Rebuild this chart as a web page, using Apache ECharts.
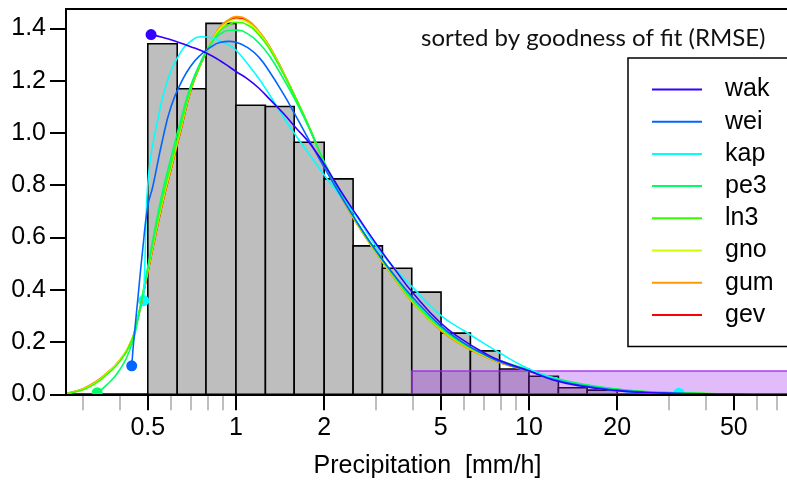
<!DOCTYPE html>
<html>
<head>
<meta charset="utf-8">
<script src="https://cdn.jsdelivr.net/npm/echarts@6.0.0/dist/echarts.min.js"></script>
<style>
  html, body { margin: 0; padding: 0; background: #ffffff; }
  #chart { width: 787px; height: 480px; }
</style>
</head>
<body>
<div id="chart"></div>
<script>
// Histogram of precipitation intensities (density scale, log-spaced bins)
const binEdges = [0.5, 0.63, 0.79, 1.0, 1.26, 1.58, 2.0, 2.51, 3.16, 3.98, 5.01, 6.31, 7.94, 10.0, 12.6, 15.8, 20.0];
const binDensity = [1.341, 1.169, 1.419, 1.106, 1.101, 0.964, 0.824, 0.568, 0.482, 0.391, 0.234, 0.166, 0.097, 0.069, 0.025, 0.016];

// Highlighted upper range of the sample
const tailRange = [3.98, 100];
const tailTop = 0.089;

// Fitted distributions, best fit first
const fitNames = ['wak', 'wei', 'kap', 'pe3', 'ln3', 'gno', 'gum', 'gev'];
const fitColors = ['#3300FF', '#0066FF', '#00FFFF', '#00FF66', '#33FF00', '#CCFF00', '#FF9900', '#FF0000'];

// Density curves (x in mm/h)
const gridX = [0.263, 0.28, 0.30, 0.33, 0.36, 0.40, 0.44, 0.46, 0.48, 0.52, 0.56, 0.60, 0.65, 0.70, 0.76, 0.82, 0.88, 0.95, 1.0, 1.1, 1.2, 1.3, 1.45, 1.6, 1.8, 2.0, 2.3, 2.6, 3.0, 3.5, 4.0, 5.0, 6.0, 7.0, 8.0, 10, 12, 15, 20, 25, 32, 40, 50, 65, 76];
const yGev = [0.003, 0.010, 0.020, 0.045, 0.078, 0.128, 0.205, 0.280, 0.370, 0.557, 0.725, 0.860, 1.015, 1.160, 1.266, 1.342, 1.400, 1.430, 1.440, 1.427, 1.386, 1.331, 1.232, 1.133, 1.006, 0.884, 0.752, 0.649, 0.544, 0.439, 0.354, 0.246, 0.186, 0.148, 0.121, 0.089, 0.061, 0.036, 0.017, 0.009, 0.0045, 0.0022, 0.0011, 0.0005, 0.0002];
const yGum = [0.004, 0.011, 0.021, 0.046, 0.079, 0.129, 0.207, 0.280, 0.372, 0.560, 0.728, 0.862, 1.018, 1.163, 1.270, 1.345, 1.405, 1.435, 1.445, 1.430, 1.388, 1.332, 1.232, 1.132, 1.005, 0.882, 0.750, 0.647, 0.542, 0.437, 0.352, 0.244, 0.184, 0.146, 0.120, 0.088, 0.060, 0.035, 0.016, 0.008, 0.004, 0.002, 0.001, 0.0004, 0.0002];
const yGno = [0.003, 0.009, 0.019, 0.043, 0.077, 0.128, 0.207, 0.283, 0.378, 0.567, 0.735, 0.870, 1.025, 1.165, 1.268, 1.342, 1.398, 1.427, 1.435, 1.422, 1.382, 1.328, 1.230, 1.132, 1.007, 0.885, 0.754, 0.650, 0.545, 0.441, 0.356, 0.249, 0.188, 0.150, 0.123, 0.090, 0.062, 0.037, 0.018, 0.0095, 0.005, 0.0026, 0.0013, 0.0005, 0.0002];
const yLn3 = [0.002, 0.008, 0.017, 0.040, 0.073, 0.124, 0.205, 0.285, 0.382, 0.575, 0.745, 0.880, 1.033, 1.168, 1.268, 1.338, 1.390, 1.415, 1.423, 1.412, 1.374, 1.322, 1.227, 1.132, 1.010, 0.888, 0.757, 0.653, 0.548, 0.444, 0.359, 0.252, 0.190, 0.152, 0.125, 0.092, 0.064, 0.038, 0.019, 0.010, 0.0055, 0.003, 0.0015, 0.0006, 0.0002];

const xPe3 = [0.336, 0.36, 0.40, 0.44, 0.46, 0.48, 0.52, 0.56, 0.60, 0.65, 0.70, 0.76, 0.82, 0.88, 0.95, 1.0, 1.1, 1.2, 1.3, 1.45, 1.6, 1.8, 2.0, 2.3, 2.6, 3.0, 3.5, 4.0, 5.0, 6.0, 7.0, 8.0, 10, 12, 15, 20, 25, 32, 40, 50, 65, 76];
const yPe3 = [0.006, 0.033, 0.092, 0.188, 0.272, 0.380, 0.590, 0.770, 0.905, 1.055, 1.180, 1.275, 1.340, 1.377, 1.392, 1.393, 1.378, 1.342, 1.295, 1.208, 1.122, 1.005, 0.888, 0.760, 0.656, 0.552, 0.448, 0.363, 0.256, 0.194, 0.156, 0.128, 0.094, 0.065, 0.040, 0.020, 0.011, 0.0055, 0.0028, 0.0012, 0.0004, 0.0001];

const xKap = [0.484, 0.489, 0.496, 0.503, 0.516, 0.536, 0.58, 0.644, 0.70, 0.754, 0.82, 0.88, 0.95, 1.0, 1.1, 1.2, 1.3, 1.45, 1.6, 1.8, 2.0, 2.3, 2.6, 3.0, 3.5, 4.0, 5.0, 6.0, 7.0, 8.0, 10, 12, 15, 20, 25, 32.5];
const yKap = [0.358, 0.514, 0.743, 0.839, 0.935, 1.030, 1.190, 1.304, 1.350, 1.368, 1.365, 1.352, 1.335, 1.316, 1.262, 1.206, 1.147, 1.062, 0.990, 0.910, 0.839, 0.751, 0.675, 0.568, 0.478, 0.410, 0.302, 0.243, 0.196, 0.156, 0.097, 0.063, 0.034, 0.014, 0.007, 0.004];

const xWei = [0.4406, 0.445, 0.45, 0.46, 0.48, 0.50, 0.52, 0.56, 0.60, 0.65, 0.70, 0.76, 0.82, 0.88, 0.95, 1.0, 1.1, 1.2, 1.3, 1.45, 1.6, 1.8, 2.0, 2.3, 2.6, 3.0, 3.5, 4.0, 5.0, 6.0, 7.0, 8.0, 10, 12, 15, 20, 25, 32, 40, 50, 65, 76];
const yWei = [0.109, 0.170, 0.230, 0.340, 0.550, 0.720, 0.795, 0.968, 1.100, 1.193, 1.255, 1.300, 1.328, 1.346, 1.350, 1.347, 1.325, 1.288, 1.235, 1.150, 1.065, 0.960, 0.868, 0.752, 0.655, 0.550, 0.450, 0.372, 0.262, 0.196, 0.154, 0.124, 0.089, 0.058, 0.034, 0.016, 0.008, 0.0035, 0.0015, 0.0006, 0.0002, 0.0001];

const xWak = [0.513, 0.56, 0.60, 0.65, 0.70, 0.76, 0.82, 0.88, 0.95, 1.0, 1.1, 1.2, 1.3, 1.45, 1.6, 1.8, 2.0, 2.3, 2.6, 3.0, 3.5, 4.0, 5.0, 6.0, 7.0, 8.0, 10, 12, 15, 20, 25, 32, 40, 50, 65, 76];
const yWak = [1.376, 1.366, 1.356, 1.343, 1.330, 1.315, 1.297, 1.277, 1.252, 1.235, 1.205, 1.170, 1.130, 1.075, 1.020, 0.955, 0.880, 0.770, 0.680, 0.578, 0.475, 0.390, 0.272, 0.205, 0.160, 0.128, 0.090, 0.056, 0.032, 0.014, 0.007, 0.003, 0.0015, 0.0006, 0.0002, 0.0001];

// End points of the bounded distributions
const dotNames = ['wak', 'wei', 'kap', 'pe3', 'kap'];
const dotX = [0.513, 0.4406, 0.484, 0.336, 32.5];
const dotY = [1.376, 0.109, 0.358, 0.006, 0.004];

// Axis ticks
const majorTicks = [0.5, 1, 2, 5, 10, 20, 50];
const minorTicks = [0.3, 0.4, 0.6, 0.7, 0.8, 0.9, 3, 4, 6, 7, 8, 9, 30, 40, 60, 70];
const yTicks = [0, 0.2, 0.4, 0.6, 0.8, 1.0, 1.2, 1.4];

const fitCurves = {
  wak: [xWak, yWak], wei: [xWei, yWei], kap: [xKap, yKap], pe3: [xPe3, yPe3],
  ln3: [gridX, yLn3], gno: [gridX, yGno], gum: [gridX, yGum], gev: [gridX, yGev]
};

const lg = Math.log10;
const colorOf = name => fitColors[fitNames.indexOf(name)];
const FONT = '"Liberation Sans", Arial, sans-serif';

// x axis runs in log10 space
const xMin = -0.5802;
const xMax = 1.8874;

const bins = binDensity.map((h, i) => [lg(binEdges[i]), lg(binEdges[i + 1]), h]);

const histSeries = {
  type: 'custom',
  name: 'histogram',
  xAxisIndex: 0, yAxisIndex: 0,
  clip: true, silent: true, z: 2,
  encode: { x: [0, 1], y: 2 },
  data: bins,
  renderItem(params, api) {
    const p0 = api.coord([api.value(0), 0]);
    const p1 = api.coord([api.value(1), api.value(2)]);
    return {
      type: 'rect',
      shape: { x: p0[0], y: p1[1], width: p1[0] - p0[0], height: p0[1] - p1[1] },
      style: { fill: '#BEBEBE', stroke: '#000000', lineWidth: 1.6 }
    };
  }
};

const tailSeries = {
  type: 'custom',
  name: 'tail',
  xAxisIndex: 0, yAxisIndex: 0,
  clip: true, silent: true, z: 3,
  encode: { x: [0, 1], y: 2 },
  data: [[lg(tailRange[0]), lg(tailRange[1]), tailTop]],
  renderItem(params, api) {
    const p0 = api.coord([api.value(0), 0]);
    const p1 = api.coord([api.value(1), api.value(2)]);
    return {
      type: 'rect',
      shape: { x: p0[0], y: p1[1], width: p1[0] - p0[0], height: p0[1] - p1[1] },
      style: { fill: 'rgba(160,32,240,0.3)', stroke: 'rgba(160,32,240,0.85)', lineWidth: 1.5 }
    };
  }
};

const dotSeries = {
  type: 'custom',
  name: 'bounds',
  xAxisIndex: 0, yAxisIndex: 0,
  clip: true, silent: true, z: 4,
  encode: { x: 0, y: 1 },
  data: dotX.map((x, i) => [lg(x), dotY[i], i]),
  renderItem(params, api) {
    const p = api.coord([api.value(0), api.value(1)]);
    return {
      type: 'circle',
      shape: { cx: p[0], cy: p[1], r: 5.5 },
      style: { fill: colorOf(dotNames[api.value(2)]) }
    };
  }
};

// draw worst fit first so the best fit ends up on top
const curveSeries = fitNames.slice().reverse().map(name => {
  const [xs, ys] = fitCurves[name];
  const color = colorOf(name);
  return {
    type: 'line',
    name: name,
    color: color,
    xAxisIndex: 0, yAxisIndex: 0,
    data: xs.map((x, i) => [lg(x), ys[i]]),
    symbol: 'none', showSymbol: false,
    smooth: 0.5,
    lineStyle: { color: color, width: 1.6 },
    itemStyle: { color: color },
    clip: true, silent: true, z: 5,
    emphasis: { disabled: true }
  };
});

const fmtTick = v => {
  const x = Math.pow(10, v);
  return String(parseFloat(x.toPrecision(3)));
};

const chart = echarts.init(document.getElementById('chart'), null, { renderer: 'canvas' });
chart.setOption({
  animation: false,
  backgroundColor: '#ffffff',
  title: {
    text: 'sorted by goodness of fit (RMSE)',
    left: 421, top: 26,
    padding: 0,
    textStyle: { fontFamily: 'Lato, "Open Sans", sans-serif', fontSize: 24, fontWeight: 'normal', color: '#111111' }
  },
  legend: {
    data: fitNames.map(n => ({ name: n, itemStyle: { color: colorOf(n) } })),
    orient: 'vertical',
    left: 628, top: 58,
    padding: [19, 40, 19, 24],
    icon: 'rect',
    itemWidth: 50, itemHeight: 2,
    itemGap: 7.2,
    selectedMode: false,
    borderColor: '#000000', borderWidth: 1.5, borderRadius: 0,
    backgroundColor: '#ffffff',
    textStyle: { fontFamily: FONT, fontSize: 25, lineHeight: 24, color: '#000000', padding: [0, 0, 0, 18] }
  },
  grid: {
    left: 66, top: 9, right: -2, bottom: 85.7,
    containLabel: false,
    outerBoundsMode: 'none',
    show: true, borderColor: '#000000', borderWidth: 2, backgroundColor: 'transparent'
  },
  xAxis: [
    {
      type: 'value', position: 'bottom', min: xMin, max: xMax, z: 10,
      name: 'Precipitation  [mm/h]', nameLocation: 'middle', nameGap: 59,
      nameTextStyle: { fontFamily: FONT, fontSize: 25, color: '#000000' },
      axisLine: { show: true, onZero: false, lineStyle: { color: '#000000', width: 2 } },
      axisTick: { show: true, length: 16, lineStyle: { color: '#000000', width: 2 }, customValues: majorTicks.map(lg) },
      axisLabel: { show: true, margin: 21, fontFamily: FONT, fontSize: 25, color: '#000000', customValues: majorTicks.map(lg), formatter: fmtTick },
      splitLine: { show: false }
    },
    {
      type: 'value', position: 'bottom', min: xMin, max: xMax, z: 9,
      axisLine: { show: false },
      axisTick: { show: true, length: 16, lineStyle: { color: '#BEBEBE', width: 2 }, customValues: minorTicks.map(lg) },
      axisLabel: { show: false },
      splitLine: { show: false }
    }
  ],
  yAxis: {
    type: 'value', min: 0, max: 1.474, z: 10,
    axisLine: { show: true, onZero: false, lineStyle: { color: '#000000', width: 2 } },
    axisTick: { show: true, length: 16, lineStyle: { color: '#000000', width: 2 }, customValues: yTicks },
    axisLabel: { show: true, margin: 20, fontFamily: FONT, fontSize: 25, color: '#000000', customValues: yTicks, formatter: v => v.toFixed(1) },
    splitLine: { show: false }
  },
  series: [histSeries, tailSeries, dotSeries].concat(curveSeries)
});
</script>
</body>
</html>
